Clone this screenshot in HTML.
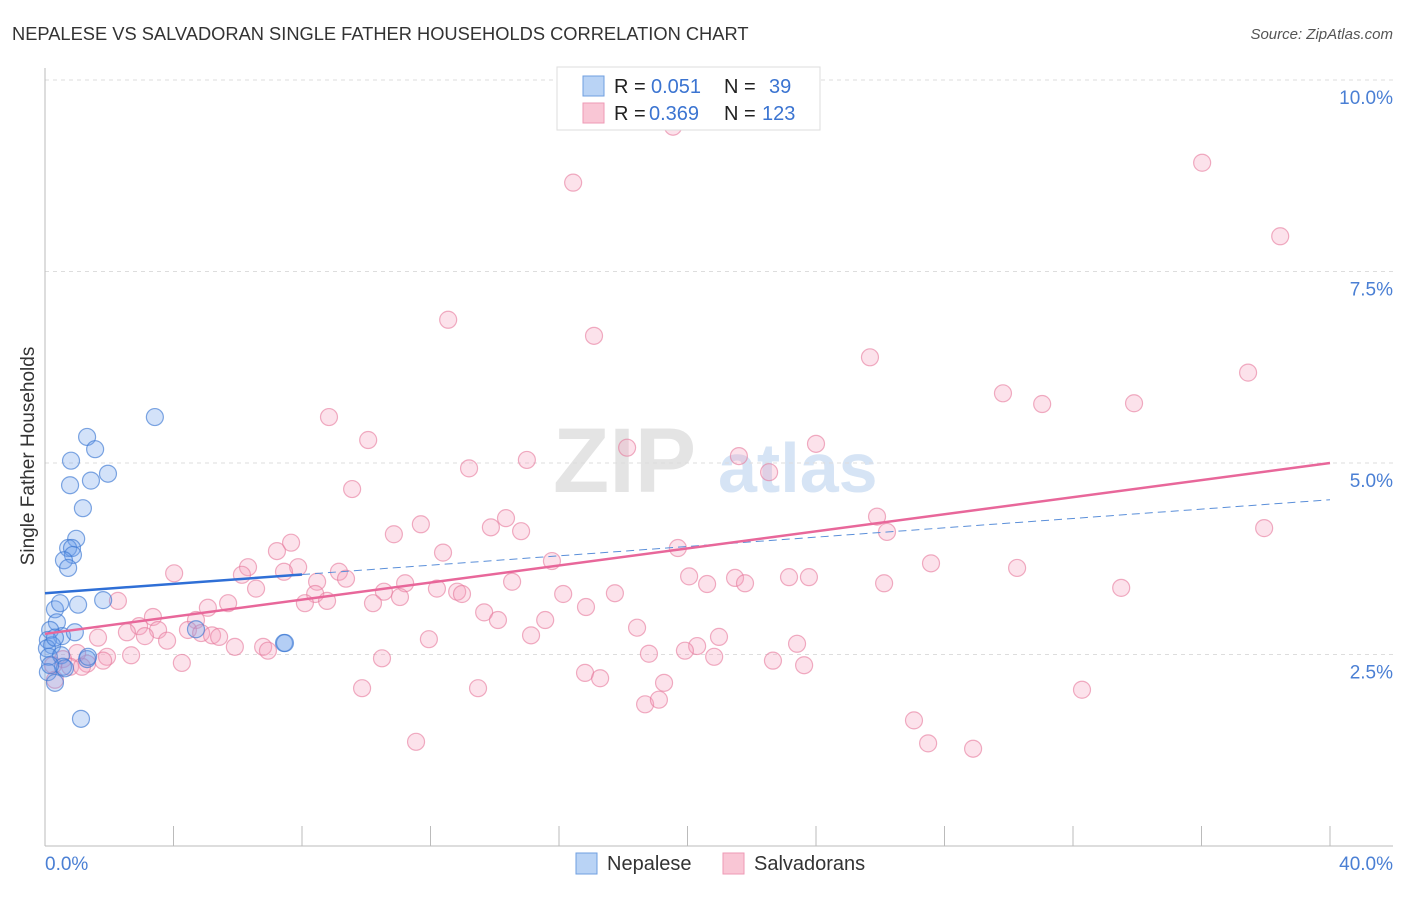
<!DOCTYPE html>
<html><head><meta charset="utf-8"><style>
body{margin:0;background:#fff;font-family:"Liberation Sans",sans-serif}
svg text{font-family:"Liberation Sans",sans-serif}
</style></head><body>
<svg width="1406" height="892">
<text x="12" y="40" font-size="18.3" fill="#333">NEPALESE VS SALVADORAN SINGLE FATHER HOUSEHOLDS CORRELATION CHART</text>
<text x="1393" y="39" font-size="15" fill="#555" font-style="italic" text-anchor="end">Source: ZipAtlas.com</text>
<g>
<text x="553" y="492" font-size="92" fill="#e4e4e4" font-family="Liberation Serif" font-weight="bold">ZIP</text>
<text x="718" y="492" font-size="70" fill="#d6e4f5" font-weight="bold">atlas</text></g>
<g id="grid"></g><g id="axes"></g><g id="marks"></g>
<g>
<rect x="557" y="67" width="263" height="63" fill="#fff" stroke="#ddd"/>
<rect x="583" y="76" width="21" height="20" fill="#b9d3f5" stroke="#6f9fe0"/>
<rect x="583" y="103" width="21" height="20" fill="#f9c6d5" stroke="#ee9ab5"/>
<text x="614" y="93" font-size="20" fill="#222">R =<tspan x="651" fill="#3b74d1">0.051</tspan><tspan x="724">N =</tspan><tspan x="769" fill="#3b74d1">39</tspan></text>
<text x="614" y="120" font-size="20" fill="#222">R =<tspan x="649" fill="#3b74d1">0.369</tspan><tspan x="724">N =</tspan><tspan x="762" fill="#3b74d1">123</tspan></text>
</g>
<g>
<rect x="576" y="853" width="21" height="21" fill="#b9d3f5" stroke="#6f9fe0"/>
<text x="607" y="870" font-size="20" fill="#333">Nepalese</text>
<rect x="723" y="853" width="21" height="21" fill="#f9c6d5" stroke="#ee9ab5"/>
<text x="754" y="870" font-size="20" fill="#333">Salvadorans</text>
</g>
</svg>
<script>
const blueX=[3.42,1.31,1.56,0.81,1.96,1.43,0.78,1.18,0.97,0.72,0.84,0.87,0.59,0.72,0.31,0.47,1.03,1.81,0.37,0.53,0.16,0.09,0.22,0.06,0.31,0.93,0.12,0.5,1.31,1.34,4.70,7.44,7.47,0.56,0.09,0.31,1.12,0.62,0.16];
const blueY=[5.60,5.34,5.18,5.03,4.86,4.77,4.71,4.41,4.01,3.89,3.89,3.80,3.73,3.63,3.09,3.17,3.15,3.21,2.92,2.74,2.82,2.69,2.62,2.58,2.72,2.79,2.47,2.49,2.44,2.47,2.83,2.65,2.65,2.34,2.27,2.13,1.66,2.32,2.36];
const pinkX=[19.55,16.44,36.02,38.45,12.55,17.09,25.68,37.45,29.82,31.04,33.90,8.84,10.06,18.12,21.60,24.00,13.20,15.00,22.54,9.56,14.35,11.70,10.86,13.88,14.82,25.90,26.21,37.95,19.70,12.39,7.22,7.66,15.78,6.32,4.02,6.13,7.88,7.44,9.15,9.37,8.47,6.57,8.41,10.55,11.21,12.20,12.83,12.98,14.54,16.13,17.74,20.05,20.61,21.48,21.79,23.16,23.78,26.12,27.58,30.26,33.50,2.27,3.36,5.07,5.70,8.09,8.78,10.21,11.05,13.67,14.10,15.57,16.84,18.43,4.70,2.93,3.52,4.45,2.55,3.11,3.80,1.65,4.86,5.20,5.42,5.91,6.79,6.94,11.95,15.13,20.98,23.41,20.30,19.92,18.80,20.83,22.66,23.63,10.49,2.68,4.26,1.93,1.81,1.31,1.00,0.56,0.78,1.15,0.25,0.31,16.81,17.28,9.87,13.48,19.27,18.68,19.11,32.28,27.05,11.55,27.49,28.89];
const pinkY=[9.39,8.66,8.92,7.96,6.87,6.66,6.38,6.18,5.91,5.77,5.78,5.60,5.30,5.20,5.09,5.25,4.93,5.04,4.88,4.66,4.28,4.20,4.07,4.16,4.11,4.30,4.10,4.15,3.89,3.83,3.85,3.96,3.72,3.64,3.56,3.54,3.64,3.58,3.58,3.49,3.45,3.36,3.29,3.32,3.43,3.36,3.32,3.29,3.45,3.29,3.30,3.52,3.42,3.50,3.43,3.51,3.51,3.43,3.69,3.63,3.37,3.20,2.99,3.11,3.17,3.17,3.20,3.17,3.25,3.05,2.95,2.95,3.12,2.85,2.95,2.87,2.82,2.82,2.79,2.74,2.68,2.72,2.78,2.75,2.73,2.60,2.60,2.55,2.70,2.75,2.73,2.64,2.61,2.55,2.51,2.47,2.42,2.36,2.45,2.49,2.39,2.47,2.42,2.38,2.52,2.44,2.34,2.34,2.36,2.17,2.26,2.19,2.06,2.06,2.13,1.85,1.91,2.04,1.64,1.36,1.34,1.27];
const blueFit=[3.30,4.52];   // y at x=0, y at x=40
const pinkFit=[2.77,5.00];
const yTicks=[2.5,5.0,7.5,10.0];
const yTickLabels=["2.5%","5.0%","7.5%","10.0%"];
const xTicks=[0,4,8,12,16,20,24,28,32,36,40];
const NS="http://www.w3.org/2000/svg";
const sx=v=>45+v/40*1285;
const sy=v=>846-v/2.5*191.5;
function mk(tag,attrs,parent){const e=document.createElementNS(NS,tag);for(const k in attrs)e.setAttribute(k,attrs[k]);document.getElementById(parent).appendChild(e);return e;}
yTicks.forEach((t,i)=>{
 const l=mk('line',{x1:45,x2:1393,y1:sy(t),y2:sy(t),stroke:'#ddd','stroke-dasharray':'4,4'},'grid');
 
 
 const tx=mk('text',{x:1393,y:sy(t)+24,'font-size':19,fill:'#4a7fd4','text-anchor':'end'},'axes');
 tx.textContent=yTickLabels[i];
 
 
});
const ya=mk('line',{x1:45,x2:45,y1:68,y2:846,stroke:'#bbb'},'axes');


const xa=mk('line',{x1:45,x2:1393,y1:846,y2:846,stroke:'#bbb'},'axes');


xTicks.forEach(t=>{const l=mk('line',{x1:sx(t),x2:sx(t),y1:826,y2:846,stroke:'#bbb'},'axes');
 
 });
const x0=mk('text',{x:45,y:870,'font-size':19,fill:'#4a7fd4'},'axes');x0.textContent="0.0%";


const x1=mk('text',{x:1393,y:870,'font-size':19,fill:'#4a7fd4','text-anchor':'end'},'axes');x1.textContent="40.0%";


const yt=mk('text',{x:34,y:456,'font-size':19,fill:'#333','text-anchor':'middle',transform:'rotate(-90 34 456)'},'axes');yt.textContent="Single Father Households";


pinkX.forEach((x,i)=>{const c=mk('circle',{cx:sx(x),cy:sy(pinkY[i]),r:8.5,fill:'rgba(244,160,188,0.3)',stroke:'rgba(230,120,155,0.6)','stroke-width':1.2},'marks');
 
 });
blueX.forEach((x,i)=>{const c=mk('circle',{cx:sx(x),cy:sy(blueY[i]),r:8.5,fill:'rgba(110,160,235,0.3)',stroke:'rgba(60,120,210,0.65)','stroke-width':1.2},'marks');
 
 });
const fb=v=>blueFit[0]+(blueFit[1]-blueFit[0])*v/40;
const bl=mk('line',{x1:sx(0),y1:sy(fb(0)),x2:sx(8),y2:sy(fb(8)),stroke:'#2f6fd6','stroke-width':2.5},'marks');


const bd=mk('line',{x1:sx(8),y1:sy(fb(8)),x2:sx(40),y2:sy(fb(40)),stroke:'#5b8fd9','stroke-width':1,'stroke-dasharray':'8,5'},'marks');


const pl=mk('line',{x1:sx(0),y1:sy(pinkFit[0]),x2:sx(40),y2:sy(pinkFit[1]),stroke:'#e8679a','stroke-width':2.5},'marks');


</script>
</body></html>
